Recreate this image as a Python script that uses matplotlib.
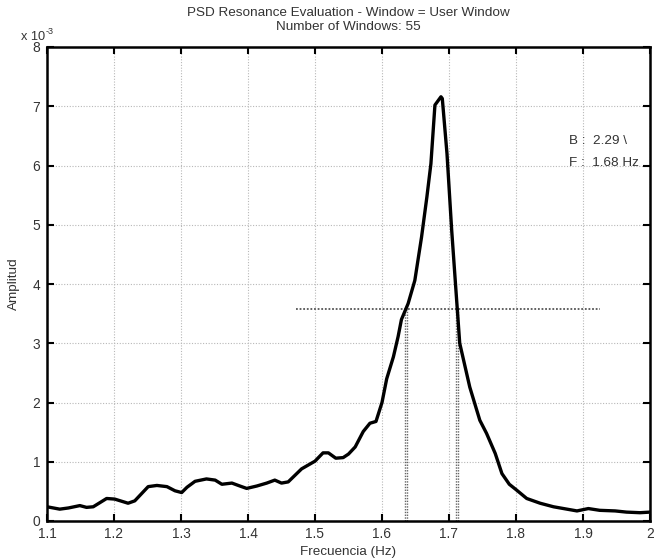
import matplotlib
matplotlib.use("Agg")
import matplotlib.pyplot as plt

plt.rcParams['font.family'] = ['Liberation Sans', 'DejaVu Sans']

# Frequency (Hz) and amplitude (x 1e-3)
freq = [1.100, 1.119, 1.132, 1.149, 1.159, 1.169, 1.189, 1.201, 1.221, 1.231,
        1.251, 1.264, 1.279, 1.291, 1.301, 1.309, 1.321, 1.338, 1.351, 1.361,
        1.376, 1.388, 1.398, 1.413, 1.428, 1.440, 1.450, 1.460, 1.480, 1.500,
        1.512, 1.520, 1.531, 1.542, 1.550, 1.560, 1.572, 1.582, 1.591, 1.600,
        1.607, 1.617, 1.624, 1.629, 1.639, 1.649, 1.659, 1.667, 1.673, 1.679,
        1.688, 1.690, 1.697, 1.704, 1.710, 1.716, 1.731, 1.746, 1.756, 1.769,
        1.779, 1.790, 1.800, 1.816, 1.836, 1.856, 1.876, 1.891, 1.908, 1.925,
        1.948, 1.965, 1.985, 2.000]
amp = [0.24, 0.20, 0.22, 0.26, 0.23, 0.24, 0.38, 0.37, 0.30, 0.34,
       0.58, 0.60, 0.58, 0.51, 0.48, 0.57, 0.67, 0.71, 0.69, 0.62,
       0.64, 0.59, 0.55, 0.59, 0.64, 0.69, 0.64, 0.66, 0.88, 1.01,
       1.15, 1.15, 1.06, 1.07, 1.13, 1.25, 1.51, 1.65, 1.68, 2.00,
       2.40, 2.77, 3.11, 3.40, 3.67, 4.06, 4.79, 5.47, 6.03, 7.02,
       7.16, 7.13, 6.20, 4.91, 3.95, 3.00, 2.26, 1.70, 1.48, 1.14,
       0.80, 0.62, 0.53, 0.38, 0.30, 0.24, 0.20, 0.17, 0.21, 0.18,
       0.17, 0.15, 0.14, 0.15]

# Half-power markers
half_power_level = 3.58
half_power_span = [1.472, 1.925]
half_power_freqs = [1.634, 1.637, 1.710, 1.713]

xticks = [1.1, 1.2, 1.3, 1.4, 1.5, 1.6, 1.7, 1.8, 1.9, 2.0]
xticklabels = ['1.1', '1.2', '1.3', '1.4', '1.5', '1.6', '1.7', '1.8', '1.9', '2']
yticks = [0, 1, 2, 3, 4, 5, 6, 7, 8]

title_lines = ['PSD Resonance Evaluation - Window = User Window', 'Number of Windows: 55']
ann_B = 'B :  2.29 \\'
ann_F = 'F :  1.68 Hz'

txt = '#333333'
fig = plt.figure(figsize=(6.64, 5.59), dpi=100)
ax = fig.add_axes([47/664, 1 - 521/559, (650 - 47)/664, (521 - 47)/559])

ax.plot(freq, amp, color='black', lw=2.4, zorder=3)

ax.hlines(half_power_level, half_power_span[0], half_power_span[1],
          colors='#555555', linestyles=(0, (1, 1)), lw=1.3, zorder=2)
for f in half_power_freqs:
    ax.vlines(f, 0, half_power_level, colors='#666666',
              linestyles=(0, (1, 1)), lw=1.0, zorder=2)

ax.set_xlim(1.1, 2.0)
ax.set_ylim(0, 8)
ax.set_xticks(xticks)
ax.set_xticklabels(xticklabels)
ax.set_yticks(yticks)
ax.grid(True, color='#b8b8b8', linestyle=(0, (1, 1.5)), lw=0.8)
ax.set_axisbelow(True)

ax.tick_params(direction='in', top=True, right=True, length=5, width=1.5,
               labelsize=9.9, colors='black', labelcolor=txt)
ax.tick_params(axis='y', pad=5)
ax.tick_params(axis='x', pad=4)
for s in ax.spines.values():
    s.set_linewidth(1.8)
    s.set_color('black')

ax.set_xlabel('Frecuencia (Hz)', fontsize=9.7, color=txt, labelpad=4)
ax.set_ylabel('Amplitud', fontsize=9.7, color=txt, labelpad=9)

fig.text(348.5/664, 1 - 13/559, title_lines[0], fontsize=9.7, color=txt,
         ha='center', va='center')
fig.text(348.5/664, 1 - 27/559, title_lines[1], fontsize=9.7, color=txt,
         ha='center', va='center')

fig.text(45/664, 1 - 37/559, 'x 10', fontsize=9.2, color=txt,
         ha='right', va='center')
fig.text(46/664, 1 - 31/559, '-3', fontsize=6.5, color=txt,
         ha='left', va='center')

ax.text(1.879, 6.42, ann_B, fontsize=9.7, color=txt, ha='left', va='center')
ax.text(1.879, 6.05, ann_F, fontsize=9.7, color=txt, ha='left', va='center')

fig.savefig('out.png', dpi=100)
